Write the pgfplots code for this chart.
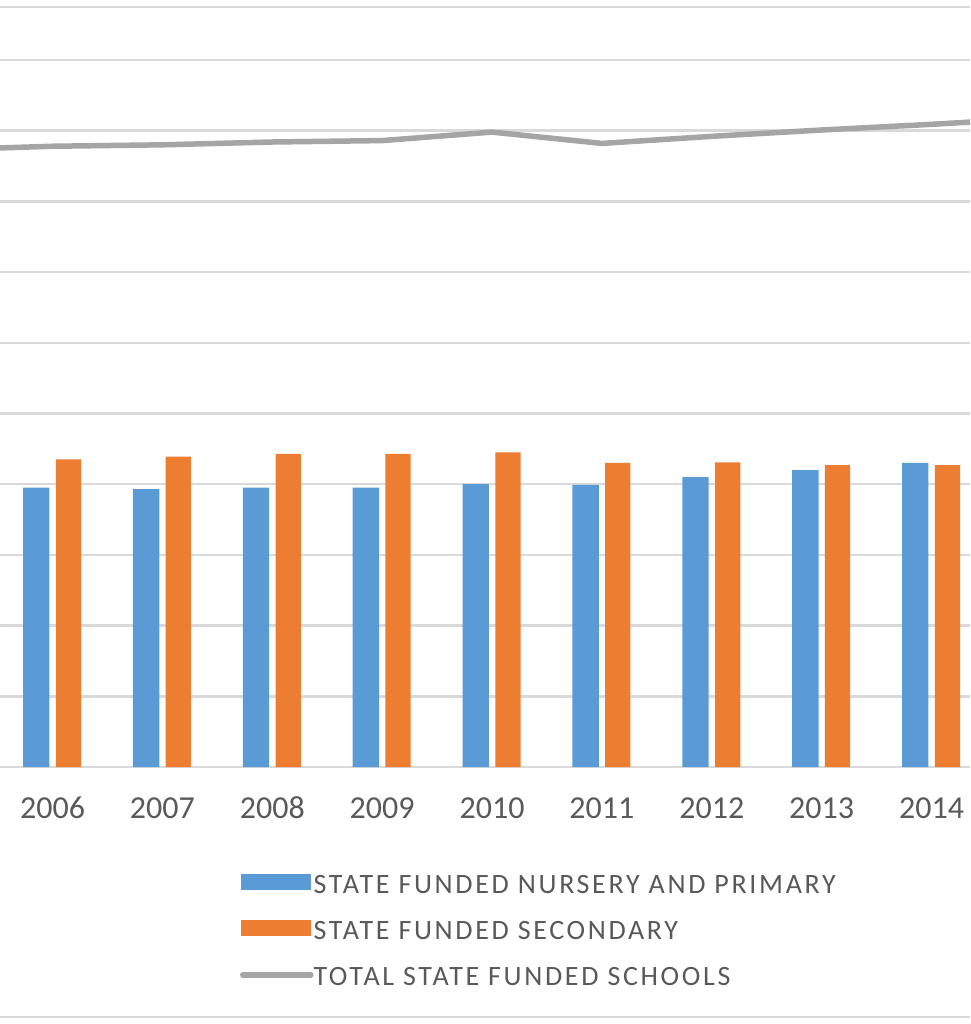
\documentclass[border=0pt]{standalone}
\usepackage{pgfplots}
\pgfplotsset{compat=1.18}
\usepackage{fontspec}
\setmainfont{Carlito}
\newfontfamily\legfont[LetterSpace=9.5]{Carlito}
\definecolor{cblue}{HTML}{5B9BD5}
\definecolor{corange}{HTML}{ED7D31}
\definecolor{cgray}{HTML}{A5A5A5}
\definecolor{ctext}{HTML}{595959}
\definecolor{cgrid}{HTML}{D9D9D9}
\begin{document}
\begin{tikzpicture}[x=1pt,y=1pt]
\path[use as bounding box] (0,-257) rectangle (970,767);
\draw[cgrid, line width=2.5pt] (0,760) -- (970,760);
\draw[cgrid, line width=2.5pt] (0,-250) -- (970,-250);
\begin{axis}[
  at={(0pt,0pt)}, anchor=south west,
  scale only axis, width=970pt, height=707pt,
  xmin=-0.478, xmax=8.35, ymin=0, ymax=10,
  axis x line*=bottom, axis y line*=left,
  y axis line style={draw=none},
  x axis line style={cgrid, line width=2.5pt, -},
  ytick={1,...,10}, yticklabels={}, ymajorgrids,
  major grid style={cgrid, line width=2.5pt},
  xtick={0,...,8},
  xticklabels={2006,2007,2008,2009,2010,2011,2012,2013,2014},
  major tick length=0pt,
  xticklabel style={font=\fontsize{32}{38}\selectfont, text=ctext, inner sep=0pt, anchor=north, text height=20pt, yshift=-31pt},
  clip=true,
  legend style={at={(axis description cs:0.24742,-0.15000)}, anchor=north west, draw=none, fill=none, inner sep=0pt, outer sep=0pt,
    font=\legfont\fontsize{28}{34}\selectfont, text=ctext, row sep=20pt,
    nodes={inner sep=0pt, text height=20pt, text depth=6pt},
    /tikz/every even column/.append style={column sep=8.5pt}},
  legend cell align=left,
]
\addplot[ybar, bar width=0.24, bar shift=-0.148, fill=cblue, draw=none,
  legend image code/.code={\fill[cblue] (0pt,-4pt) rectangle (70pt,12pt);}]
  coordinates {(0,3.95) (1,3.93) (2,3.95) (3,3.95) (4,4.00) (5,3.99) (6,4.10) (7,4.20) (8,4.30)};
\addlegendentry{STATE FUNDED NURSERY AND PRIMARY}
\addplot[ybar, bar width=0.23, bar shift=0.145, fill=corange, draw=none,
  legend image code/.code={\fill[corange] (0pt,-4pt) rectangle (70pt,12pt);}]
  coordinates {(0,4.35) (1,4.39) (2,4.43) (3,4.43) (4,4.45) (5,4.30) (6,4.31) (7,4.27) (8,4.27)};
\addlegendentry{STATE FUNDED SECONDARY}
\addplot[cgray, line width=5.5pt, sharp plot, mark=none,
  legend image code/.code={\draw[cgray, line width=5.5pt, line cap=round] (2pt,3pt) -- (70pt,3pt);}]
  coordinates {(-1,8.73) (0,8.78) (1,8.80) (2,8.84) (3,8.86) (4,8.98) (5,8.82) (6,8.92) (7,9.01) (8,9.09) (9,9.18)};
\addlegendentry{TOTAL STATE FUNDED SCHOOLS}
\end{axis}
\end{tikzpicture}
\end{document}
